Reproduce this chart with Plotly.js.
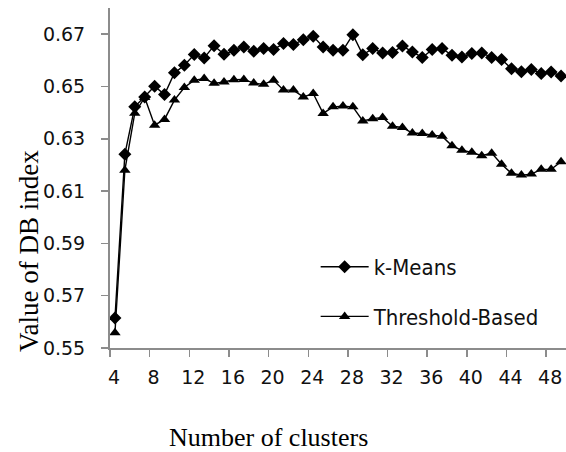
<!DOCTYPE html>
<html>
<head>
<meta charset="utf-8">
<script src="https://cdn.plot.ly/plotly-3.0.1.min.js"></script>
<style>html,body{margin:0;padding:0;background:#fff;}#chart{width:566px;height:452px;}</style>
</head>
<body>
<div id="chart"></div>
<script>
var clusters = [4,5,6,7,8,9,10,11,12,13,14,15,16,17,18,19,20,21,22,23,24,25,26,27,28,29,30,31,32,33,34,35,36,37,38,39,40,41,42,43,44,45,46,47,48,49];
var kMeans = [0.5615,0.6241,0.6422,0.6460,0.6501,0.6469,0.6552,0.6581,0.6622,0.6609,0.6656,0.6623,0.6638,0.6651,0.6635,0.6645,0.6641,0.6664,0.6660,0.6679,0.6692,0.6651,0.6638,0.6638,0.6698,0.6621,0.6645,0.6628,0.6630,0.6655,0.6632,0.6611,0.6641,0.6645,0.6619,0.6613,0.6626,0.6628,0.6611,0.6603,0.6568,0.6556,0.6565,0.6550,0.6555,0.6540];
var thresholdBased = [0.5558,0.6180,0.6398,0.6458,0.6352,0.6374,0.6448,0.6496,0.6524,0.6530,0.6512,0.6517,0.6526,0.6527,0.6513,0.6508,0.6524,0.6486,0.6486,0.6460,0.6473,0.6397,0.6422,0.6425,0.6422,0.6368,0.6377,0.6381,0.6348,0.6343,0.6322,0.6320,0.6314,0.6310,0.6273,0.6256,0.6248,0.6235,0.6245,0.6203,0.6168,0.6161,0.6165,0.6183,0.6183,0.6212];
var xTickLabels = ["4","8","12","16","20","24","28","32","36","40","44","48"];
var yTickValues = [0.55,0.57,0.59,0.61,0.63,0.65,0.67];
var seriesNames = ["k-Means","Threshold-Based"];

var sansFont = "'DejaVu Sans', sans-serif";
var legendFont = "'DejaVu Sans Condensed', 'DejaVu Sans', sans-serif";
var serifFont = "'Liberation Serif', 'Times New Roman', serif";

var xTickVals = xTickLabels.map(function(t){ return Number(t) - 0.5; });

var traces = [
  {x: clusters, y: kMeans, name: seriesNames[0], type: 'scatter', mode: 'lines+markers',
   legendgroup: 'a',
   line: {color: '#000', width: 1.4}, marker: {symbol: 'diamond', size: 10, color: '#000'}},
  {x: clusters, y: thresholdBased, name: seriesNames[1], type: 'scatter', mode: 'lines+markers',
   legendgroup: 'b',
   line: {color: '#000', width: 1.4}, marker: {symbol: 'triangle-up', size: 10, color: '#000'}}
];

var layout = {
  width: 566, height: 452,
  margin: {l: 110, r: 0, t: 8, b: 104},
  paper_bgcolor: '#fff', plot_bgcolor: '#fff',
  font: {family: sansFont, size: 19, color: '#111'},
  showlegend: true,
  legend: {x: 0.451, y: 0.30, xanchor: 'left', yanchor: 'top',
           font: {family: legendFont, size: 22, color: '#111'},
           bgcolor: 'rgba(0,0,0,0)', traceorder: 'grouped', tracegroupgap: 18, itemwidth: 48},
  xaxis: {
    range: [3.5, 49.5], showgrid: false, zeroline: false,
    showline: true, linecolor: '#8c8c8c', linewidth: 2,
    ticks: 'outside', ticklen: 7, tickcolor: '#8c8c8c', tickwidth: 1.5,
    tickmode: 'array', tickvals: xTickVals, ticktext: xTickLabels,
    ticklabelshift: 4, ticklabelstandoff: 4,
    tickfont: {family: sansFont, size: 19, color: '#111'}
  },
  yaxis: {
    range: [0.55, 0.68], showgrid: false, zeroline: false,
    showline: true, linecolor: '#8c8c8c', linewidth: 2,
    ticks: 'outside', ticklen: 7, tickcolor: '#8c8c8c', tickwidth: 1.5,
    tickmode: 'array', tickvals: yTickValues, ticktext: yTickValues.map(function(v){return v.toFixed(2);}),
    ticklabelstandoff: 12,
    tickfont: {family: sansFont, size: 19, color: '#111'}
  },
  annotations: [
    {text: 'Number of clusters', xref: 'paper', yref: 'paper', x: 0.3465, y: -0.262,
     xanchor: 'center', yanchor: 'middle', showarrow: false,
     font: {family: serifFont, size: 26, color: '#000'}},
    {text: 'Value of DB index', xref: 'paper', yref: 'paper', x: -0.178, y: 0.285,
     xanchor: 'center', yanchor: 'middle', showarrow: false, textangle: -90,
     font: {family: serifFont, size: 27, color: '#000'}}
  ]
};

Plotly.newPlot('chart', traces, layout, {displayModeBar: false, staticPlot: true});
</script>
</body>
</html>
